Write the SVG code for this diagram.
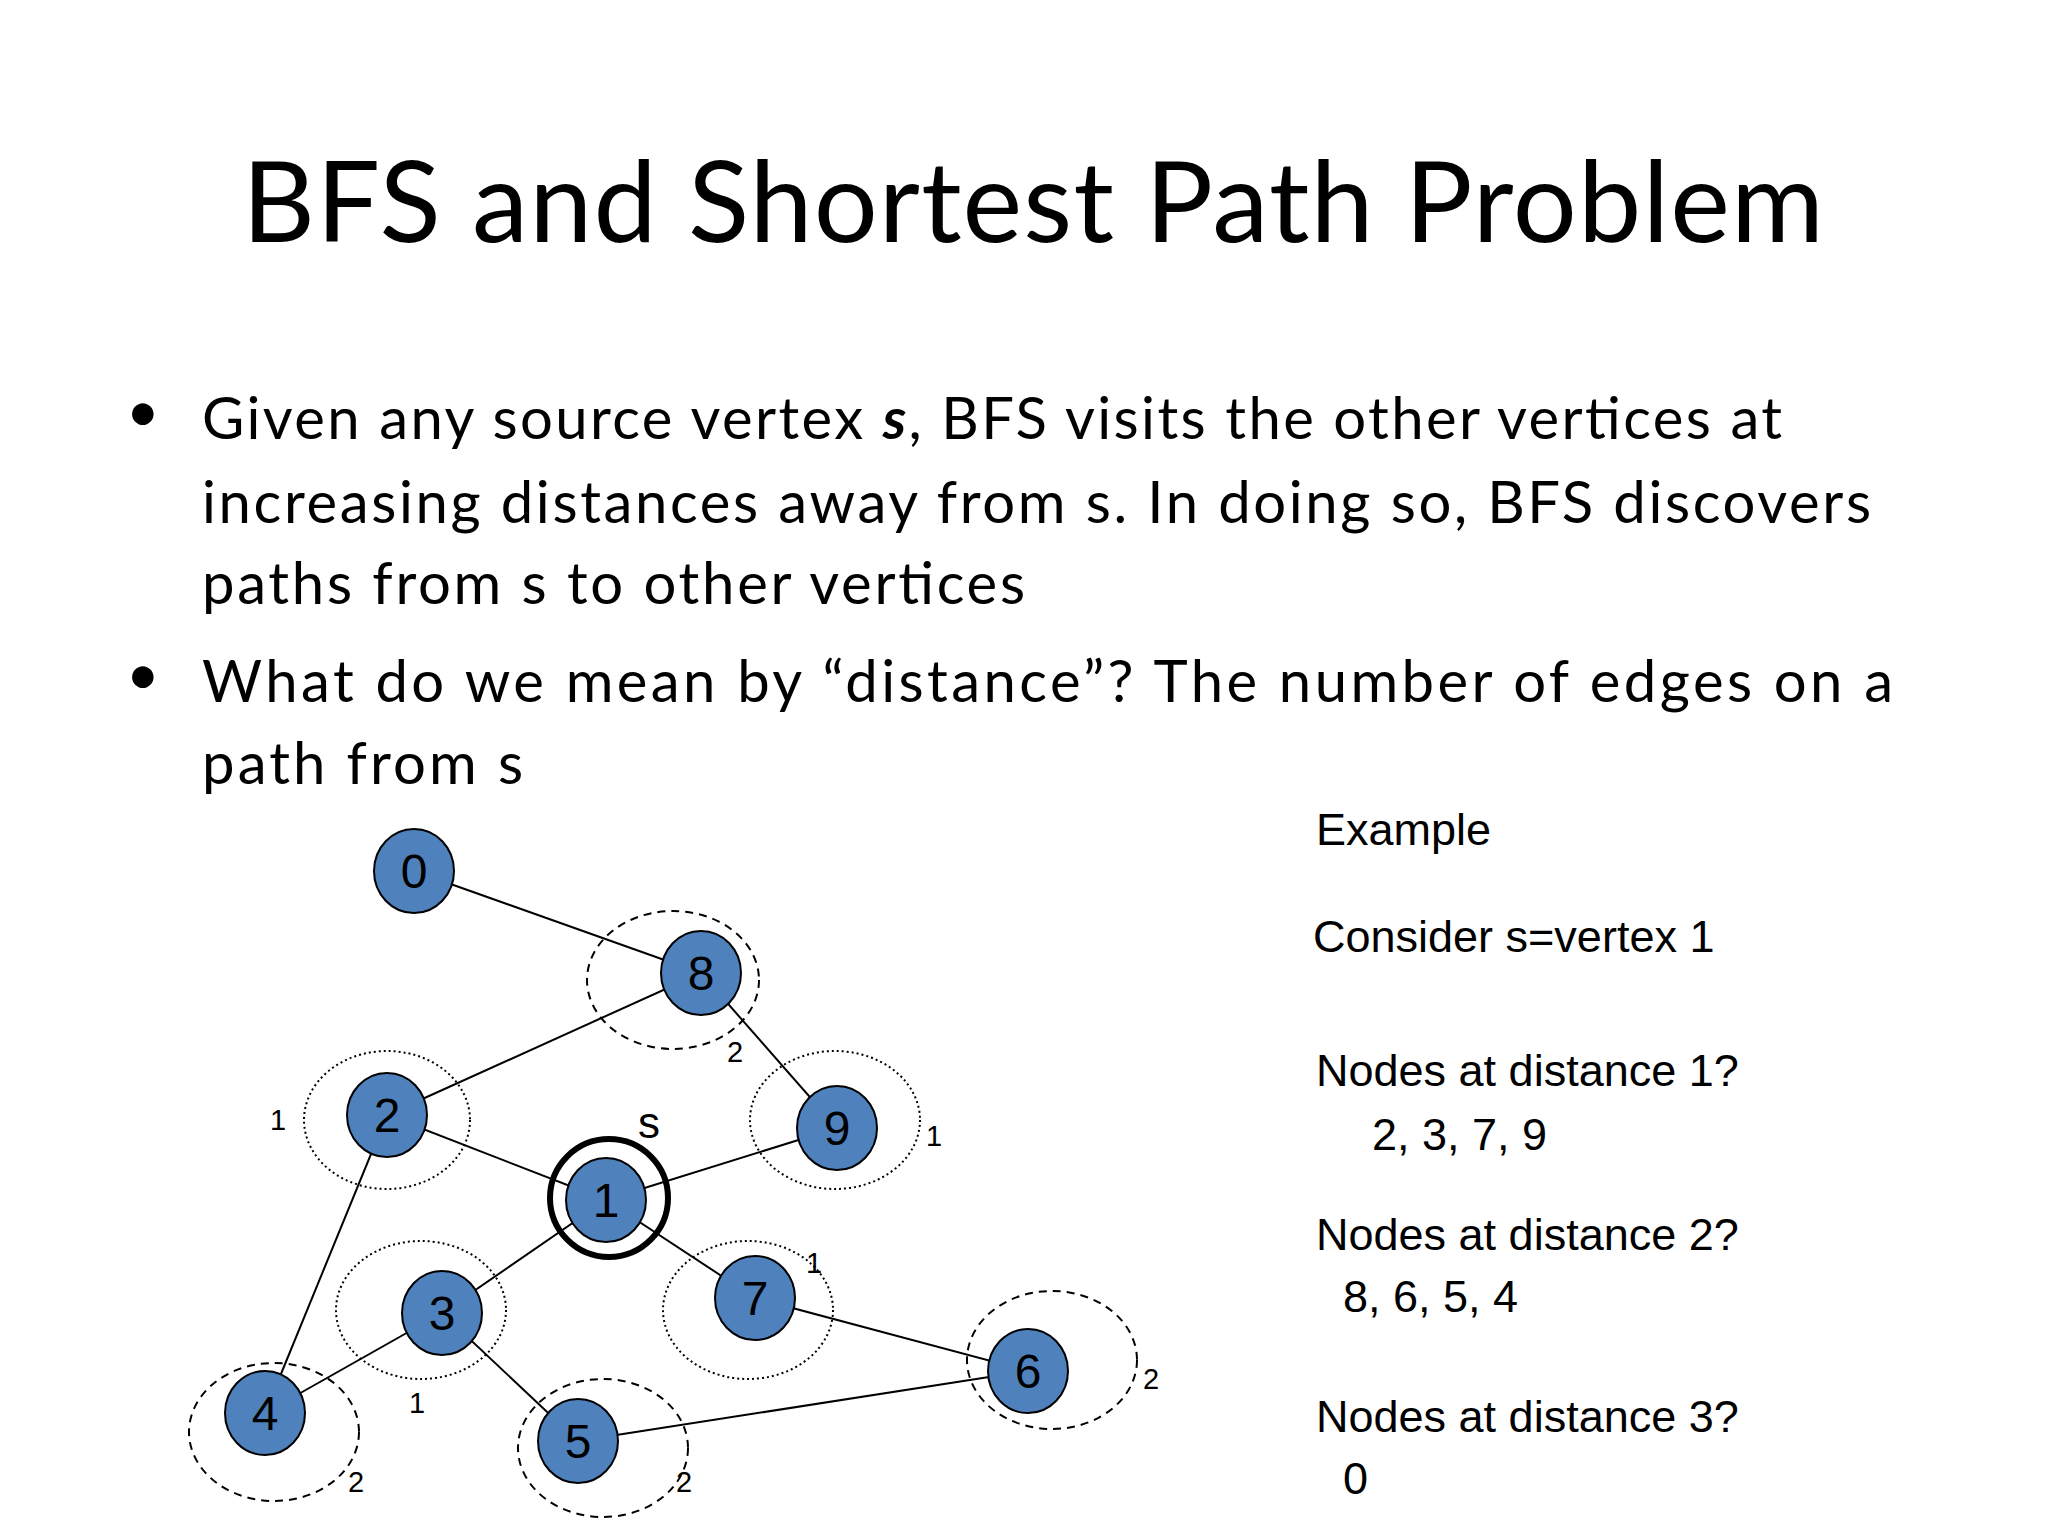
<svg xmlns="http://www.w3.org/2000/svg" width="2048" height="1536" viewBox="0 0 2048 1536">
<style>
.n{fill:#4f81bd;stroke:#000;stroke-width:2}
.nt{font-family:"Liberation Sans",Arial,sans-serif;font-size:48px;text-anchor:middle;fill:#000}
.e{stroke:#000;stroke-width:2;fill:none}
.dash{fill:none;stroke:#000;stroke-width:2;stroke-dasharray:8 6}
.dot{fill:none;stroke:#000;stroke-width:2;stroke-dasharray:2 3}
.lb{font-family:"Liberation Sans",Arial,sans-serif;font-size:29px;fill:#000}
.b{font-family:Lato,"Open Sans",sans-serif;font-size:58px;fill:#000}
.r{font-family:"Liberation Sans",Arial,sans-serif;font-size:45px;fill:#000}
</style>
<rect width="2048" height="1536" fill="#fff"/>
<text x="1033" y="242" font-family="Lato,'Open Sans',sans-serif" font-size="113" text-anchor="middle" textLength="1582">BFS and Shortest Path Problem</text>
<g id="bullets">
<text class="b" x="126" y="432">•</text>
<text class="b" x="202" y="439" textLength="1580">Given any source vertex <tspan font-weight="bold" font-style="italic">s</tspan>, BFS visits the other vertices at</text>
<text class="b" x="202" y="523" textLength="1669">increasing distances away from s.  In doing so, BFS discovers</text>
<text class="b" x="202" y="604" textLength="823">paths from s to other vertices</text>
<text class="b" x="126" y="695">•</text>
<text class="b" x="202" y="702" textLength="1691">What do we mean by “distance”?  The number of edges on a</text>
<text class="b" x="202" y="784" textLength="321">path from s</text>
</g>
<g id="rings">
<ellipse class="dash" cx="673" cy="980" rx="86" ry="69"/>
<ellipse class="dot" cx="387" cy="1120" rx="83" ry="69"/>
<ellipse class="dot" cx="835" cy="1120" rx="85" ry="69"/>
<ellipse class="dot" cx="421" cy="1310" rx="85" ry="69"/>
<ellipse class="dot" cx="748" cy="1310" rx="85" ry="69"/>
<ellipse class="dash" cx="1052" cy="1360" rx="85" ry="69"/>
<ellipse class="dash" cx="274" cy="1432" rx="85" ry="69"/>
<ellipse class="dash" cx="603" cy="1448" rx="85" ry="69"/>
</g>
<g id="edges">
<line class="e" x1="414" y1="871" x2="701" y2="973"/>
<line class="e" x1="701" y1="973" x2="387" y2="1115"/>
<line class="e" x1="701" y1="973" x2="837" y2="1128"/>
<line class="e" x1="387" y1="1115" x2="606" y2="1200"/>
<line class="e" x1="387" y1="1115" x2="265" y2="1413"/>
<line class="e" x1="606" y1="1200" x2="837" y2="1128"/>
<line class="e" x1="606" y1="1200" x2="442" y2="1313"/>
<line class="e" x1="606" y1="1200" x2="755" y2="1298"/>
<line class="e" x1="442" y1="1313" x2="265" y2="1413"/>
<line class="e" x1="442" y1="1313" x2="578" y2="1441"/>
<line class="e" x1="755" y1="1298" x2="1028" y2="1371"/>
<line class="e" x1="578" y1="1441" x2="1028" y2="1371"/>
</g>
<circle cx="609" cy="1198" r="59" fill="none" stroke="#000" stroke-width="6"/>
<g id="n0"><ellipse class="n" cx="414" cy="871" rx="40" ry="42"/><text class="nt" x="414" y="888">0</text></g>
<g id="n8"><ellipse class="n" cx="701" cy="973" rx="40" ry="42"/><text class="nt" x="701" y="990">8</text></g>
<g id="n2"><ellipse class="n" cx="387" cy="1115" rx="40" ry="42"/><text class="nt" x="387" y="1132">2</text></g>
<g id="n9"><ellipse class="n" cx="837" cy="1128" rx="40" ry="42"/><text class="nt" x="837" y="1145">9</text></g>
<g id="n1"><ellipse class="n" cx="606" cy="1200" rx="40" ry="42"/><text class="nt" x="606" y="1217">1</text></g>
<g id="n3"><ellipse class="n" cx="442" cy="1313" rx="40" ry="42"/><text class="nt" x="442" y="1330">3</text></g>
<g id="n7"><ellipse class="n" cx="755" cy="1298" rx="40" ry="42"/><text class="nt" x="755" y="1315">7</text></g>
<g id="n6"><ellipse class="n" cx="1028" cy="1371" rx="40" ry="42"/><text class="nt" x="1028" y="1388">6</text></g>
<g id="n4"><ellipse class="n" cx="265" cy="1413" rx="40" ry="42"/><text class="nt" x="265" y="1430">4</text></g>
<g id="n5"><ellipse class="n" cx="578" cy="1441" rx="40" ry="42"/><text class="nt" x="578" y="1458">5</text></g>
<g id="labels">
<text x="649" y="1138" font-family="'Liberation Sans',Arial,sans-serif" font-size="44" text-anchor="middle">s</text>
<text class="lb" x="270" y="1130">1</text>
<text class="lb" x="727" y="1062">2</text>
<text class="lb" x="926" y="1146">1</text>
<text class="lb" x="806" y="1273">1</text>
<text class="lb" x="1143" y="1389">2</text>
<text class="lb" x="409" y="1413">1</text>
<text class="lb" x="348" y="1492">2</text>
<text class="lb" x="676" y="1492">2</text>
</g>
<g id="side">
<text class="r" x="1316" y="845">Example</text>
<text class="r" x="1313" y="952">Consider s=vertex 1</text>
<text class="r" x="1316" y="1086">Nodes at distance 1?</text>
<text class="r" x="1372" y="1150">2, 3, 7, 9</text>
<text class="r" x="1316" y="1250">Nodes at distance 2?</text>
<text class="r" x="1343" y="1312">8, 6, 5, 4</text>
<text class="r" x="1316" y="1432">Nodes at distance 3?</text>
<text class="r" x="1343" y="1494">0</text>
</g>
</svg>
